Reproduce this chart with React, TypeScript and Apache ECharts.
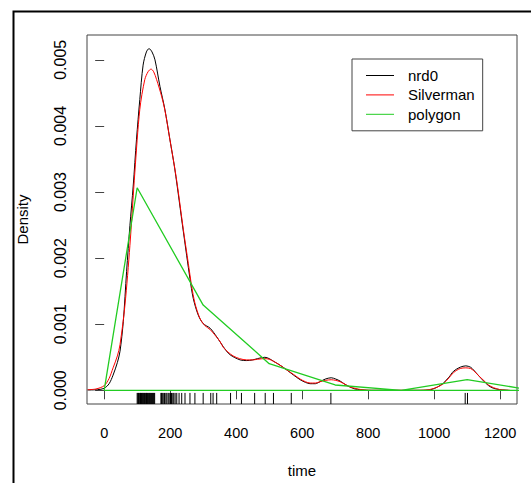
import { useEffect, useRef } from "react";
import * as echarts from "echarts";

// kernel density, bw = nrd0
const nrd0Time = [
  -50, -20, 0, 15, 27, 40, 48, 58, 68, 78, 88, 98, 108, 118, 128, 136, 145, 154, 169, 184, 199, 214, 240, 260,
  270, 285, 300, 321, 341, 361, 381, 412, 432, 450, 465, 487, 500, 513, 533, 553, 574, 594, 610, 624, 640, 654,
  670, 688, 702, 715, 730, 745, 760, 776, 800, 960, 990, 1010, 1028, 1045, 1059, 1079, 1096, 1110, 1119, 1135,
  1150, 1165, 1180, 1200, 1225,
];
const nrd0Dens = [
  0.000005, 0.00001, 0.00003, 0.0001, 0.00023, 0.00042, 0.00059, 0.00104, 0.0018, 0.00249, 0.00309, 0.0038,
  0.0044, 0.00492, 0.00512, 0.00517, 0.00512, 0.005, 0.0046, 0.00425, 0.0038, 0.00335, 0.0024, 0.00169,
  0.00139, 0.00114, 0.00101, 0.00094, 0.00081, 0.00066, 0.00054, 0.00046, 0.00045, 0.00046, 0.00048, 0.0005,
  0.00048, 0.00044, 0.00038, 0.00031, 0.00023, 0.00016, 0.00012, 0.0001, 0.0001, 0.00013, 0.00017, 0.00019,
  0.00017, 0.00014, 0.00009, 0.00005, 0.00002, 0.00001, 0, 0, 0.00001, 0.00005, 0.00011, 0.0002, 0.00029,
  0.00035, 0.00037, 0.00035, 0.00031, 0.00022, 0.00014, 0.00007, 0.00003, 0.00001, 0,
];

// kernel density, bw = Silverman
const silvTime = [
  -50, -25, 0, 15, 27, 40, 48, 63, 78, 93, 108, 123, 133, 142, 150, 159, 174, 184, 199, 219, 240, 255, 265, 275,
  290, 305, 321, 335, 351, 361, 375, 391, 410, 432, 450, 465, 487, 500, 513, 533, 553, 574, 594, 610, 624, 640,
  654, 670, 688, 702, 715, 730, 745, 760, 780, 810, 950, 985, 1010, 1028, 1045, 1059, 1079, 1096, 1110, 1119,
  1135, 1150, 1165, 1180, 1200, 1230,
];
const silvDens = [
  0.00001, 0.00002, 0.00007, 0.00018, 0.00034, 0.00052, 0.00069, 0.00129, 0.00219, 0.0033, 0.00425, 0.0047,
  0.00482, 0.00486, 0.00482, 0.0047, 0.00445, 0.00424, 0.0038, 0.0032, 0.00243, 0.00192, 0.00158, 0.00132,
  0.00109, 0.00098, 0.00092, 0.00084, 0.00074, 0.00065, 0.00058, 0.00052, 0.00048, 0.00046, 0.00046, 0.00047,
  0.00048, 0.00047, 0.00044, 0.00038, 0.00031, 0.00024, 0.00017, 0.00013, 0.00011, 0.00011, 0.00013, 0.00015,
  0.00016, 0.00015, 0.00013, 0.00009, 0.00005, 0.00003, 0.00001, 0, 0, 0.00001, 0.00005, 0.0001, 0.00019,
  0.00027, 0.00033, 0.00034, 0.00033, 0.0003, 0.00022, 0.00015, 0.00008, 0.00004, 0.00001, 0,
];

// frequency polygon (closed back along zero)
const polyTime = [0, 100, 300, 500, 700, 900, 1100, 1300, 0];
const polyDens = [0, 0.003065, 0.00129, 0.000403, 0.0000806, 0, 0.000161, 0, 0];

// observations for the rug
const rugTimes = [
  100, 102, 104, 106, 108, 110, 111, 113, 115, 117, 118, 120, 122, 124, 126, 128, 129, 131, 133, 135, 137, 139,
  141, 143, 145, 147, 149, 151, 153, 172, 174, 176, 179, 183, 187, 190, 194, 197, 201, 204, 208, 211, 215, 220,
  227, 235, 245, 260, 275, 300, 323, 330, 341, 383, 416, 456, 488, 513, 567, 687, 1094, 1101,
];

const xTicks = [0, 200, 400, 600, 800, 1000, 1200];
const yTicks = [0, 0.001, 0.002, 0.003, 0.004, 0.005];

const X_MIN = -52;
const X_MAX = 1251;
const Y_MIN = -0.000207;
const Y_MAX = 0.005376;
const RUG_TOP = Y_MIN + 0.03 * (Y_MAX - Y_MIN);

const FONT = "'Liberation Sans', Arial, sans-serif";
const GREEN = "#22cc22";

const zip = (xs: number[], ys: number[]) => xs.map((x, i) => [x, ys[i]]);

export default function App() {
  const ref = useRef<HTMLDivElement | null>(null);

  useEffect(() => {
    if (!ref.current) return;
    const chart = echarts.init(ref.current, null, { renderer: "svg" });

    chart.setOption({
      animation: false,
      backgroundColor: "#fff",
      textStyle: { fontFamily: FONT },
      grid: {
        left: 87,
        top: 35,
        right: 14,
        bottom: 77,
        show: true,
        borderColor: "#444",
        borderWidth: 1,
      },
      legend: {
        data: ["nrd0", "Silverman", "polygon"],
        orient: "vertical",
        left: 352,
        top: 59,
        padding: [9, 8, 9, 14],
        itemGap: 4.4,
        itemWidth: 28,
        itemHeight: 1,
        icon: "rect",
        borderColor: "#444",
        borderWidth: 1,
        borderRadius: 0,
        textStyle: { fontSize: 15, color: "#000", lineHeight: 15, padding: [0, 0, 0, 9], fontFamily: FONT },
      },
      xAxis: {
        type: "value",
        min: X_MIN,
        max: X_MAX,
        name: "time",
        nameLocation: "middle",
        nameGap: 59,
        nameTextStyle: { fontSize: 15, color: "#000", fontFamily: FONT },
        axisLine: { show: false },
        splitLine: { show: false },
        axisTick: { show: true, customValues: xTicks, length: 9, lineStyle: { color: "#444" } },
        axisLabel: {
          customValues: xTicks,
          margin: 21,
          fontSize: 14.5,
          color: "#000",
          fontFamily: FONT,
          formatter: (v: number) => String(v),
        },
      },
      yAxis: {
        type: "value",
        min: Y_MIN,
        max: Y_MAX,
        name: "Density",
        nameLocation: "middle",
        nameGap: 57,
        nameTextStyle: { fontSize: 15, color: "#000", fontFamily: FONT },
        axisLine: { show: false },
        splitLine: { show: false },
        axisTick: { show: true, customValues: yTicks, length: 9, lineStyle: { color: "#444" } },
        axisLabel: {
          customValues: yTicks,
          rotate: 90,
          margin: 19,
          fontSize: 16,
          color: "#000",
          fontFamily: FONT,
          formatter: (v: number) => v.toFixed(3),
        },
      },
      graphic: [
        {
          type: "rect",
          left: 11,
          top: 9,
          shape: { width: 1000, height: 1000 },
          style: { fill: "none", stroke: "#000", lineWidth: 2 },
          silent: true,
        },
      ],
      series: [
        {
          name: "nrd0",
          type: "line",
          data: zip(nrd0Time, nrd0Dens),
          smooth: 0.3,
          showSymbol: false,
          lineStyle: { color: "#000", width: 1 },
          itemStyle: { color: "#000" },
        },
        {
          name: "Silverman",
          type: "line",
          data: zip(silvTime, silvDens),
          smooth: 0.3,
          showSymbol: false,
          lineStyle: { color: "#ff0000", width: 1 },
          itemStyle: { color: "#ff0000" },
        },
        {
          name: "polygon",
          type: "line",
          data: zip(polyTime, polyDens),
          showSymbol: false,
          lineStyle: { color: GREEN, width: 1.3 },
          itemStyle: { color: GREEN },
        },
        {
          name: "rug",
          type: "custom",
          data: rugTimes.map((t) => [t]),
          renderItem: (_p: any, api: any) => {
            const t = api.value(0);
            const a = api.coord([t, Y_MIN]);
            const b = api.coord([t, RUG_TOP]);
            return {
              type: "line",
              shape: { x1: a[0], y1: a[1], x2: b[0], y2: b[1] },
              style: { stroke: "#000", lineWidth: 1 },
            };
          },
        },
      ],
    });

    return () => chart.dispose();
  }, []);

  return <div ref={ref} style={{ position: "fixed", left: 0, top: 0, width: 531, height: 483 }} />;
}
